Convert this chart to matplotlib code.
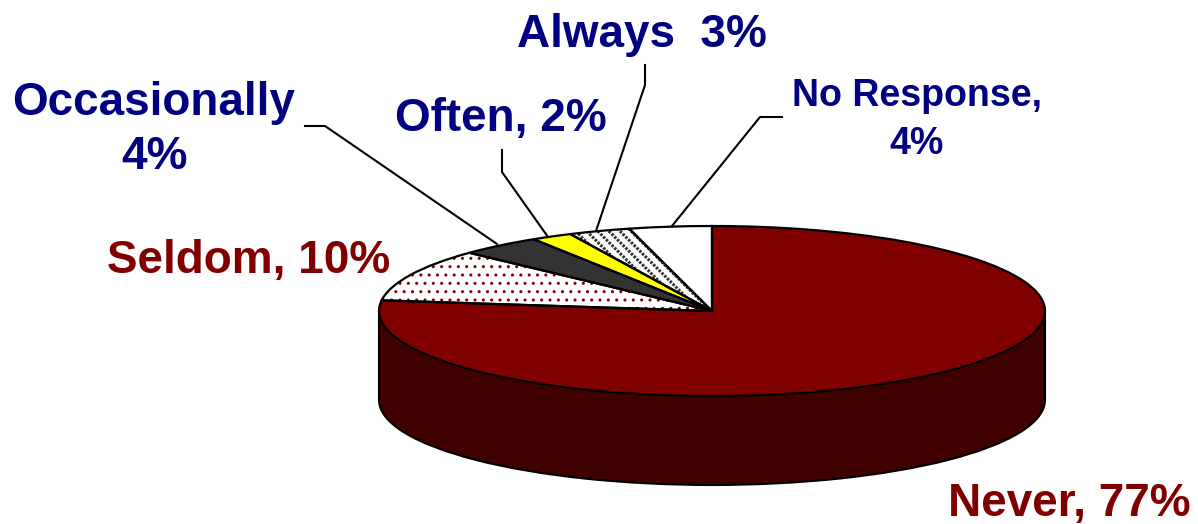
#!/usr/bin/env python3
import matplotlib
matplotlib.use("Agg")
import matplotlib.pyplot as plt
from matplotlib.patches import Rectangle

labels = ["Never", "Seldom", "Occasionally", "Often", "Always", "No Response"]
percent = [77, 10, 4, 2, 3, 4]
colors = ["#800000", "white", "#333333", "#ffff00", "white", "white"]
hatches = [None, "..", None, None, "\\\\\\", None]
hatch_colors = ["#800000", "#800000", "#333333", "#ffff00", "#333333", "white"]
hatch_widths = [1, 1.0, 1, 1, 2.2, 1]

W, H = 1198, 524
cx, cy, rx, ry, depth = 712, 311, 333, 85, 89
NAVY = "#000080"
MAROON = "#800000"

plt.rcParams["font.family"] = ["Liberation Sans", "DejaVu Sans"]
plt.rcParams["font.weight"] = "bold"

fig = plt.figure(figsize=(W / 100, H / 100), dpi=100)
ax = fig.add_axes([0, 0, 1, 1])

# side of the pie: lower ellipse + band between the two ellipses
d = depth / ry
ax.pie([1], radius=1, center=(0, -d), colors=["#400000"],
       wedgeprops=dict(edgecolor="black", linewidth=1.5))
ax.add_patch(Rectangle((-1, -d), 2, d, facecolor="#400000", edgecolor="none"))
ax.plot([-1, -1], [-d, 0], color="black", lw=1.5)
ax.plot([1, 1], [-d, 0], color="black", lw=1.5)

# top face, fill + hatch first (hatch takes the edge colour), outline after
fill, _ = ax.pie(percent, radius=1, startangle=90, counterclock=False,
                 colors=colors, hatch=hatches, wedgeprops=dict(linewidth=0))
for w, c, hw in zip(fill, hatch_colors, hatch_widths):
    w.set_edgecolor(c)
    w.set_hatch_linewidth(hw)

# white cross hatch breaks the Always stripes up into dots
breaks, _ = ax.pie(percent, radius=1, startangle=90, counterclock=False,
                   colors=["none"] * len(percent),
                   hatch=[None, None, None, None, "//////", None],
                   wedgeprops=dict(linewidth=0, edgecolor="white"))
breaks[4].set_hatch_linewidth(1.0)

ax.pie(percent, radius=1, startangle=90, counterclock=False,
       colors=["none"] * len(percent),
       wedgeprops=dict(edgecolor="black", linewidth=1.6))

ax.set_aspect("auto")
ax.set_xlim((0 - cx) / rx, (W - cx) / rx)
ax.set_ylim((cy - H) / ry, cy / ry)
ax.axis("off")

# overlay in image pixels for labels and leader lines
top = fig.add_axes([0, 0, 1, 1])
top.set_xlim(0, W)
top.set_ylim(H, 0)
top.axis("off")
top.patch.set_alpha(0)

leaders = [
    ([305, 325, 497], [126, 126, 244]),
    ([502, 502, 548], [150, 172, 237]),
    ([645, 645, 596], [65, 85, 231]),
    ([782, 760, 672], [117, 117, 226]),
]
for xs, ys in leaders:
    top.plot(xs, ys, color="black", lw=1.5)

top.text(154, 130, "Occasionally\n4%", color=NAVY, fontsize=33, ha="center",
         va="center", linespacing=1.32)
top.text(501, 119, "Often, 2%", color=NAVY, fontsize=33, ha="center", va="center")
top.text(642, 35, "Always  3%", color=NAVY, fontsize=33, ha="center", va="center")
top.text(917, 120, "No Response,\n4%", color=NAVY, fontsize=27, ha="center",
         va="center", linespacing=1.4)
top.text(249, 261, "Seldom, 10%", color=MAROON, fontsize=33, ha="center", va="center")
top.text(1069, 516, "Never, 77%", color=MAROON, fontsize=33, ha="center", va="baseline")

fig.savefig("out.png", dpi=100)
